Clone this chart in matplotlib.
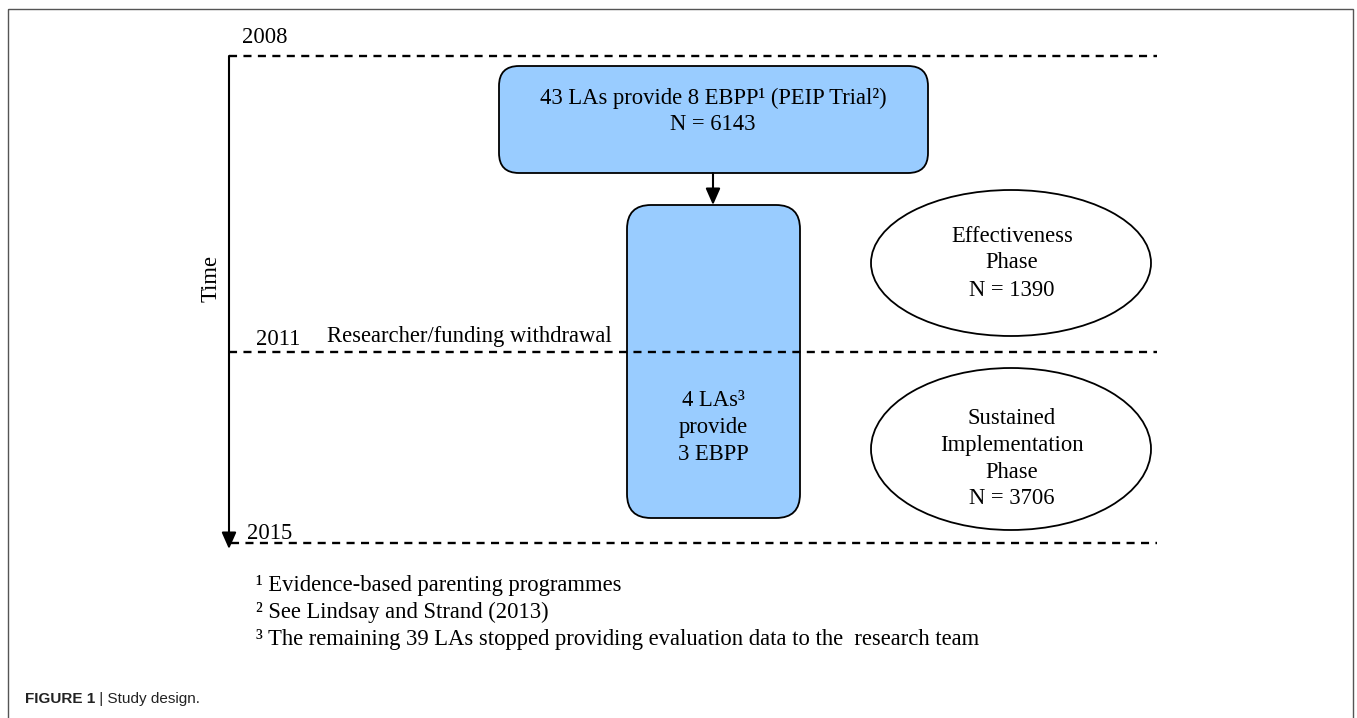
import matplotlib
matplotlib.use("Agg")
import matplotlib.pyplot as plt
from matplotlib.patches import FancyBboxPatch, Ellipse, Rectangle

plt.rcParams['font.family'] = ['Liberation Serif', 'DejaVu Serif']
plt.rcParams['lines.scale_dashes'] = False

# ---- content ----
years = ["2008", "2011", "2015"]
withdrawal_label = "Researcher/funding withdrawal"
time_label = "Time"
top_box_lines = ["43 LAs provide 8 EBPP\u00b9 (PEIP Trial\u00b2)", "N = 6143"]
tall_box_lines = ["4 LAs\u00b3", "provide", "3 EBPP"]
phase1_lines = ["Effectiveness", "Phase", "N = 1390"]
phase2_lines = ["Sustained", "Implementation", "Phase", "N = 3706"]
footnotes = ["\u00b9 Evidence-based parenting programmes",
             "\u00b2 See Lindsay and Strand (2013)",
             "\u00b3 The remaining 39 LAs stopped providing evaluation data to the  research team"]
caption_bold = "FIGURE 1"
caption_rest = " | Study design."

W, H = 1357, 718
fig = plt.figure(figsize=(W / 100, H / 100), dpi=100)
ax = fig.add_axes([0, 0, 1, 1])
ax.set_xlim(0, W)
ax.set_ylim(H, 0)
ax.axis('off')

FS = 16.3
blue = '#99ccff'

# outer frame
ax.add_patch(Rectangle((8, 9), 1345, 730, fill=False, edgecolor='#555555', lw=1.0, clip_on=False))

# dashed time lines
dash = (0, (5.8, 4.6))
line_y = [56, 352, 543]
line_x0 = [229, 229, 231]
for x0, y in zip(line_x0, line_y):
    ax.plot([x0, 1157], [y, y], color='black', lw=1.7, ls=dash, solid_capstyle='butt', dash_capstyle='butt')

# timeline arrow
ax.annotate('', xy=(229, 549), xytext=(229, 56),
            arrowprops=dict(arrowstyle='-|>,head_length=0.5,head_width=0.22', lw=1.5, color='black',
                            shrinkA=0, shrinkB=0, mutation_scale=20))

# year labels
year_pos = [(242, 43), (256, 345), (247, 539)]
for lab, (x, y) in zip(years, year_pos):
    ax.text(x, y, lab, fontsize=FS, ha='left', va='baseline')
ax.text(327, 342, withdrawal_label, fontsize=FS, ha='left', va='baseline')
ax.text(211, 278, time_label, fontsize=FS, rotation=90, ha='center', va='center')

# top box
ax.add_patch(FancyBboxPatch((499, 66), 429, 107, boxstyle='round,pad=0,rounding_size=20',
                            facecolor=blue, edgecolor='black', lw=1.3))
for txt, y in zip(top_box_lines, [98, 124]):
    ax.text(713, y, txt, fontsize=FS, ha='center', va='center')

# arrow between boxes
ax.annotate('', xy=(713, 205), xytext=(713, 173),
            arrowprops=dict(arrowstyle='-|>,head_length=0.5,head_width=0.22', lw=1.5, color='black',
                            shrinkA=0, shrinkB=0, mutation_scale=20))

# tall box
ax.add_patch(FancyBboxPatch((627, 205), 173, 313, boxstyle='round,pad=0,rounding_size=24',
                            facecolor=blue, edgecolor='black', lw=1.3))
for txt, y in zip(tall_box_lines, [401, 428, 455]):
    ax.text(713, y, txt, fontsize=FS, ha='center', va='center')

# ellipses
ax.add_patch(Ellipse((1011, 263), 280, 146, facecolor='white', edgecolor='black', lw=1.3))
for txt, y in zip(phase1_lines, [236, 263, 290]):
    ax.text(1012, y, txt, fontsize=FS, ha='center', va='center')
ax.add_patch(Ellipse((1011, 449), 280, 162, facecolor='white', edgecolor='black', lw=1.3))
for txt, y in zip(phase2_lines, [418, 445, 472, 499]):
    ax.text(1012, y, txt, fontsize=FS, ha='center', va='center')

# footnotes
for txt, y in zip(footnotes, [586, 612, 639]):
    ax.text(256, y, txt, fontsize=FS, ha='left', va='center')

# caption
t = ax.text(25, 703, caption_bold, fontsize=11, fontweight='bold', family='Liberation Sans',
            ha='left', va='baseline', color='#222222')
fig.canvas.draw()
bb = t.get_window_extent()
x_end = ax.transData.inverted().transform((bb.x1, bb.y0))[0]
ax.text(x_end, 703, caption_rest, fontsize=11, family='Liberation Sans',
        ha='left', va='baseline', color='#222222')

fig.savefig('out.png', dpi=100)
